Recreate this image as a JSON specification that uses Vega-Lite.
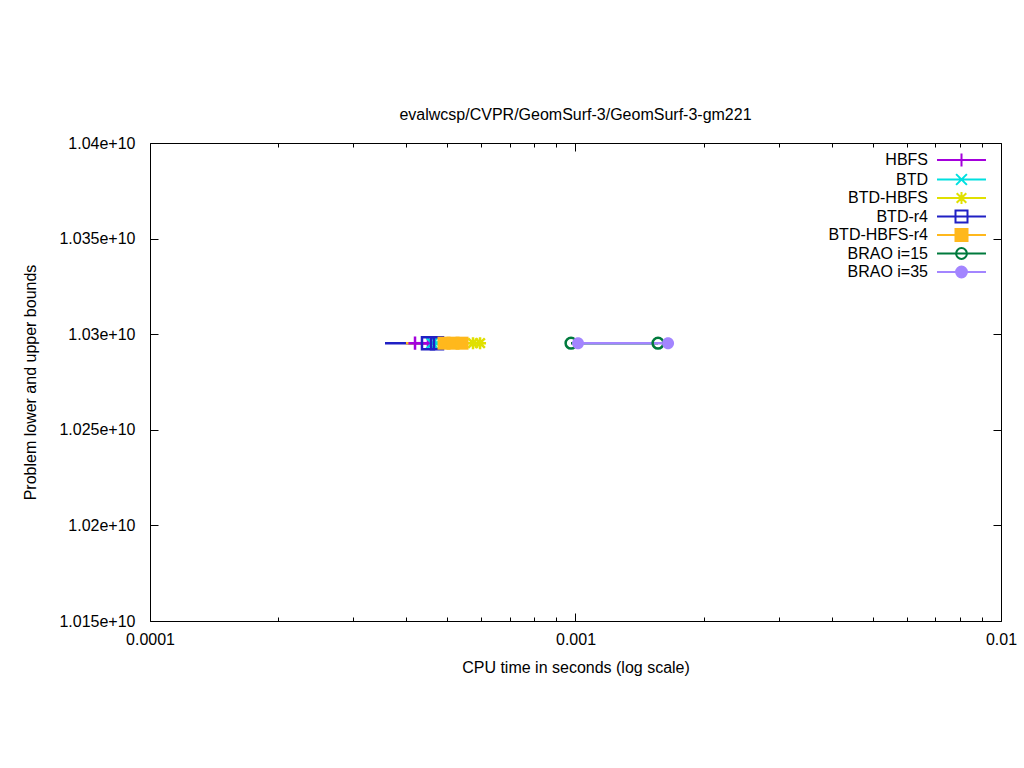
{
  "$schema": "https://vega.github.io/schema/vega-lite/v6.json",
  "width": 851,
  "height": 478,
  "autosize": "none",
  "padding": {"left": 150, "top": 143, "right": 23, "bottom": 147},
  "background": "white",
  "title": {"text": "evalwcsp/CVPR/GeomSurf-3/GeomSurf-3-gm221", "font": "Liberation Sans", "fontSize": 16, "fontWeight": "normal", "color": "black", "offset": 12, "anchor": "middle"},
  "config": {
    "view": {"stroke": "black", "strokeWidth": 1},
    "font": "Liberation Sans",
    "axis": {"labelFont": "Liberation Sans", "labelFontSize": 16, "labelColor": "black", "titleFont": "Liberation Sans", "titleFontSize": 16, "titleFontWeight": "normal", "titleColor": "black", "grid": false, "domain": false, "tickColor": "black", "tickWidth": 1, "labelFlush": false, "labelOverlap": false, "labelBound": false}
  },
  "datasets": {
    "lines": [
      {"series": "BTD-r4", "time": 0.0003567, "bound": 10295300000},
      {"series": "BTD-r4", "time": 0.0004726, "bound": 10295300000},
      {"series": "BTD-HBFS-r4", "time": 0.0003996, "bound": 10295300000},
      {"series": "BTD-HBFS-r4", "time": 0.0005412, "bound": 10295300000},
      {"series": "HBFS", "time": 0.0004196, "bound": 10295300000},
      {"series": "HBFS", "time": 0.0004501, "bound": 10295300000},
      {"series": "BTD", "time": 0.0004599, "bound": 10295300000},
      {"series": "BTD", "time": 0.0004726, "bound": 10295300000},
      {"series": "BTD-HBFS", "time": 0.0005743, "bound": 10295300000},
      {"series": "BTD-HBFS", "time": 0.0005966, "bound": 10295300000},
      {"series": "BRAO i=15", "time": 0.000976, "bound": 10295300000},
      {"series": "BRAO i=15", "time": 0.001563, "bound": 10295300000},
      {"series": "BRAO i=35", "time": 0.0010137, "bound": 10295300000},
      {"series": "BRAO i=35", "time": 0.00165, "bound": 10295300000}
    ],
    "points": [
      {"series": "HBFS", "time": 0.0004196, "bound": 10295300000},
      {"series": "HBFS", "time": 0.0004501, "bound": 10295300000},
      {"series": "BTD", "time": 0.0004599, "bound": 10295300000},
      {"series": "BTD", "time": 0.0004726, "bound": 10295300000},
      {"series": "BTD-HBFS", "time": 0.0005743, "bound": 10295300000},
      {"series": "BTD-HBFS", "time": 0.0005966, "bound": 10295300000},
      {"series": "BTD-r4", "time": 0.0004501, "bound": 10295300000},
      {"series": "BTD-r4", "time": 0.0004726, "bound": 10295300000},
      {"series": "BTD-HBFS-r4", "time": 0.0004909, "bound": 10295300000},
      {"series": "BTD-HBFS-r4", "time": 0.0005154, "bound": 10295300000},
      {"series": "BTD-HBFS-r4", "time": 0.0005412, "bound": 10295300000},
      {"series": "BRAO i=15", "time": 0.000976, "bound": 10295300000},
      {"series": "BRAO i=15", "time": 0.001563, "bound": 10295300000},
      {"series": "BRAO i=35", "time": 0.0010137, "bound": 10295300000},
      {"series": "BRAO i=35", "time": 0.00165, "bound": 10295300000}
    ]
  },
  "layer": [
    {
      "data": {"name": "lines"},
      "mark": {"type": "line", "strokeWidth": 2.5, "clip": true},
      "encoding": {
        "x": {"field": "time", "type": "quantitative", "scale": {"type": "log", "domain": [0.0001, 0.01], "nice": false},
          "axis": {"orient": "bottom", "values": [0.0001, 0.001, 0.01], "labelExpr": "format(datum.value, '~g')", "tickSize": -8, "labelPadding": 18, "title": "CPU time in seconds (log scale)", "titlePadding": 12}},
        "y": {"field": "bound", "type": "quantitative", "scale": {"domain": [10150000000, 10400000000], "zero": false, "nice": false},
          "axis": {"orient": "left", "values": [10150000000, 10200000000, 10250000000, 10300000000, 10350000000, 10400000000], "labelExpr": "replace(format(datum.value, '.3e'), regexp('0+e'), 'e')", "tickSize": -8, "labelPadding": 23, "title": "Problem lower and upper bounds", "titlePadding": 20}},
        "color": {"field": "series", "type": "nominal",
          "scale": {"domain": ["HBFS", "BTD", "BTD-HBFS", "BTD-r4", "BTD-HBFS-r4", "BRAO i=15", "BRAO i=35"],
                    "range": ["#a400dc", "#00e0e0", "#e0e000", "#2020c4", "#ffb81c", "#007a3d", "#a385ff"]},
          "legend": {"orient": "none", "legendX": 803.5, "legendY": 9, "padding": 0, "title": null, "labelAlign": "right", "labelOffset": -41.5, "labelFont": "Liberation Sans", "labelFontSize": 16, "labelColor": "black", "symbolSize": 144, "symbolStrokeWidth": 2, "rowPadding": -1.5,
            "encoding": {"symbols": {
              "shape": {"value": {"expr": "{'HBFS': 'M-4.08,0H4.08M-1.1,0H1.1M0,-1.1V1.1', 'BTD': 'M-4.08,0H4.08M-0.9,-0.9L0.9,0.9M-0.9,0.9L0.9,-0.9', 'BTD-HBFS': 'M-4.08,0H4.08M-1,0H1M0,-1V1M-0.8,-0.8L0.8,0.8M-0.8,0.8L0.8,-0.8', 'BTD-r4': 'M-4.08,0H4.08M-1,-1H1V1H-1Z', 'BTD-HBFS-r4': 'M-4.08,0H4.08M-1,-1H1V1H-1Z', 'BRAO i=15': 'M-4.08,0H4.08M0.9,0A0.9,0.9,0,1,1,-0.9,0A0.9,0.9,0,1,1,0.9,0Z', 'BRAO i=35': 'M-4.08,0H4.08M0.9,0A0.9,0.9,0,1,1,-0.9,0A0.9,0.9,0,1,1,0.9,0Z'}[datum.value]"}},
              "fill": {"value": {"expr": "(datum.value === 'BTD-HBFS-r4' || datum.value === 'BRAO i=35') ? scale('color', datum.value) : 'transparent'"}},
              "stroke": {"value": {"expr": "scale('color', datum.value)"}},
              "strokeWidth": {"value": 2},
              "opacity": {"value": 1}
            }}}
        }
      }
    },
    {
      "data": {"name": "points"},
      "transform": [{"filter": "datum.series === 'HBFS'"}],
      "mark": {"type": "point", "shape": "M-1.1,0H1.1M0,-1.1V1.1", "filled": false, "color": "#a400dc", "strokeWidth": 2.5, "size": 144, "opacity": 1},
      "encoding": {
        "x": {"field": "time", "type": "quantitative", "axis": {"orient": "bottom", "values": [0.0002, 0.0003, 0.0004, 0.0005, 0.0006, 0.0007, 0.0008, 0.0009, 0.002, 0.003, 0.004, 0.005, 0.006, 0.007, 0.008, 0.009], "labels": false, "tickSize": -4, "title": null}},
        "y": {"field": "bound", "type": "quantitative", "axis": {"orient": "right", "values": [10150000000, 10200000000, 10250000000, 10300000000, 10350000000, 10400000000], "labels": false, "tickSize": -8, "title": null}}
      }
    },
    {
      "data": {"name": "points"},
      "transform": [{"filter": "datum.series === 'BTD'"}],
      "mark": {"type": "point", "shape": "M-0.9,-0.9L0.9,0.9M-0.9,0.9L0.9,-0.9", "filled": false, "color": "#00e0e0", "strokeWidth": 2.5, "size": 144, "opacity": 1},
      "encoding": {
        "x": {"field": "time", "type": "quantitative", "axis": {"orient": "top", "values": [0.0001, 0.001, 0.01], "labels": false, "tickSize": -8, "title": null}},
        "y": {"field": "bound", "type": "quantitative", "axis": null}
      }
    },
    {
      "data": {"name": "points"},
      "transform": [{"filter": "datum.series === 'BTD-HBFS'"}],
      "mark": {"type": "point", "shape": "M-1,0H1M0,-1V1M-0.8,-0.8L0.8,0.8M-0.8,0.8L0.8,-0.8", "filled": false, "color": "#e0e000", "strokeWidth": 2.5, "size": 144, "opacity": 1},
      "encoding": {
        "x": {"field": "time", "type": "quantitative", "axis": {"orient": "top", "values": [0.0002, 0.0003, 0.0004, 0.0005, 0.0006, 0.0007, 0.0008, 0.0009, 0.002, 0.003, 0.004, 0.005, 0.006, 0.007, 0.008, 0.009], "labels": false, "tickSize": -4, "title": null}},
        "y": {"field": "bound", "type": "quantitative", "axis": null}
      }
    },
    {
      "data": {"name": "points"},
      "transform": [{"filter": "datum.series === 'BTD-r4'"}],
      "mark": {"type": "point", "shape": "M-1,-1H1V1H-1Z", "filled": false, "color": "#2020c4", "strokeWidth": 2.5, "size": 144, "opacity": 1},
      "encoding": {
        "x": {"field": "time", "type": "quantitative", "axis": null},
        "y": {"field": "bound", "type": "quantitative", "axis": null}
      }
    },
    {
      "data": {"name": "points"},
      "transform": [{"filter": "datum.series === 'BRAO i=15'"}],
      "mark": {"type": "point", "shape": "M0.9,0A0.9,0.9,0,1,1,-0.9,0A0.9,0.9,0,1,1,0.9,0Z", "filled": false, "color": "#007a3d", "strokeWidth": 2.5, "size": 144, "opacity": 1},
      "encoding": {
        "x": {"field": "time", "type": "quantitative", "axis": null},
        "y": {"field": "bound", "type": "quantitative", "axis": null}
      }
    },
    {
      "data": {"name": "points"},
      "transform": [{"filter": "datum.series === 'BTD-HBFS-r4'"}],
      "mark": {"type": "point", "shape": "M-1,-1H1V1H-1Z", "filled": true, "color": "#ffb81c", "size": 169, "opacity": 1},
      "encoding": {
        "x": {"field": "time", "type": "quantitative", "axis": null},
        "y": {"field": "bound", "type": "quantitative", "axis": null}
      }
    },
    {
      "data": {"name": "points"},
      "transform": [{"filter": "datum.series === 'BRAO i=35'"}],
      "mark": {"type": "point", "shape": "M1,0A1,1,0,1,1,-1,0A1,1,0,1,1,1,0Z", "filled": true, "color": "#a385ff", "size": 144, "opacity": 1},
      "encoding": {
        "x": {"field": "time", "type": "quantitative", "axis": null},
        "y": {"field": "bound", "type": "quantitative", "axis": null}
      }
    }
  ],
  "resolve": {"axis": {"x": "independent", "y": "independent"}}
}
